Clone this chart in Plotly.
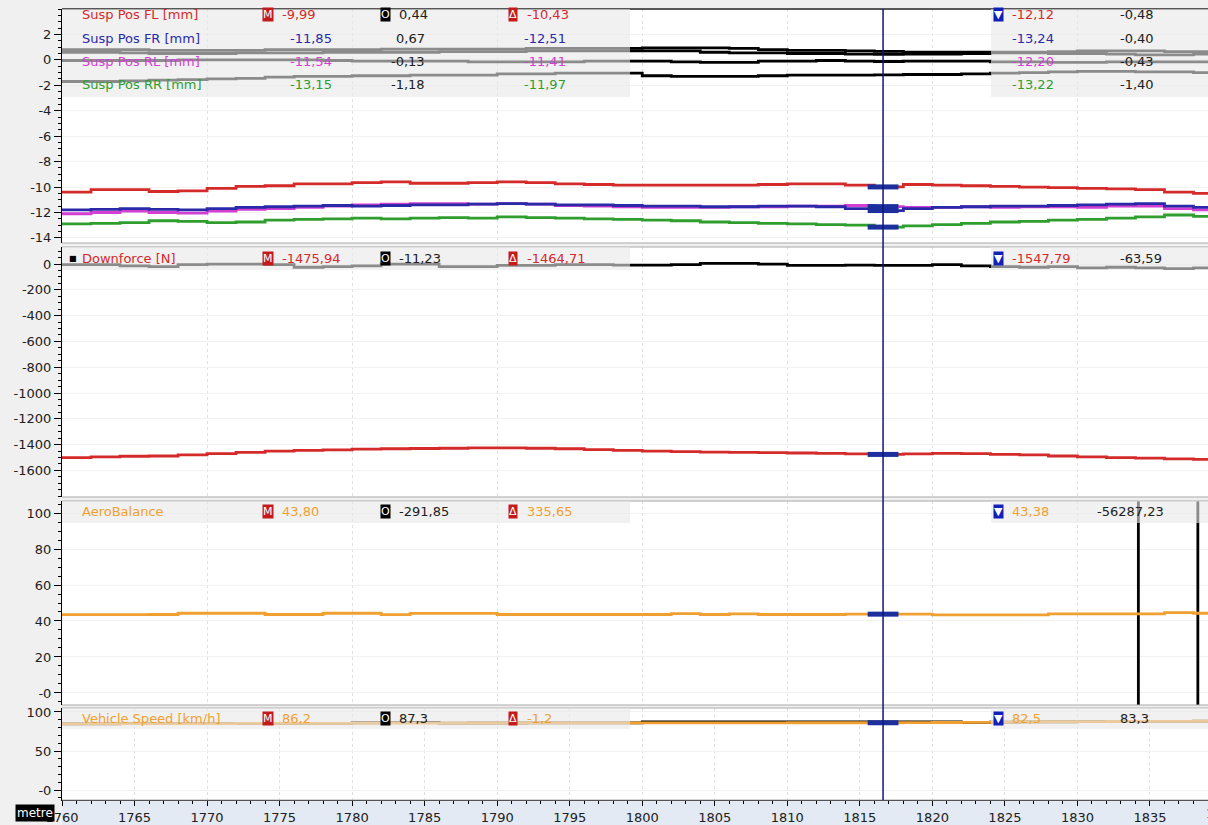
import plotly.graph_objects as go

# ---------------- data ----------------
DIST = [1760, 1762, 1764, 1766, 1768, 1770, 1772, 1774, 1776, 1778, 1780, 1782, 1784, 1786,
        1788, 1790, 1792, 1794, 1796, 1798, 1800, 1802, 1804, 1806, 1808, 1810, 1812, 1814,
        1816, 1818, 1820, 1822, 1824, 1826, 1828, 1830, 1832, 1834, 1836, 1838, 1840]

SUSP_FL = [-10.4, -10.2, -10.2, -10.35, -10.3, -10.1, -9.95, -9.9, -9.75, -9.75, -9.65, -9.6, -9.7, -9.7,
           -9.65, -9.6, -9.65, -9.75, -9.8, -9.85, -9.85, -9.85, -9.85, -9.85, -9.8, -9.75, -9.75, -9.85,
           -9.99, -9.8, -9.85, -9.9, -9.95, -10.0, -10.05, -10.1, -10.15, -10.2, -10.4, -10.5, -10.5]
SUSP_FR = [-11.8, -11.75, -11.7, -11.75, -11.8, -11.7, -11.6, -11.55, -11.5, -11.45, -11.5, -11.45, -11.4, -11.4,
           -11.35, -11.3, -11.35, -11.4, -11.4, -11.45, -11.5, -11.5, -11.55, -11.55, -11.5, -11.5, -11.55, -11.7,
           -11.85, -11.7, -11.6, -11.55, -11.5, -11.5, -11.45, -11.4, -11.35, -11.3, -11.5, -11.6, -11.6]
SUSP_RL = [-12.1, -12.0, -11.9, -12.0, -12.05, -11.9, -11.75, -11.7, -11.6, -11.5, -11.4, -11.35, -11.3, -11.3,
           -11.35, -11.3, -11.35, -11.45, -11.5, -11.55, -11.6, -11.6, -11.6, -11.55, -11.55, -11.5, -11.5, -11.45,
           -11.54, -11.6, -11.6, -11.55, -11.6, -11.55, -11.55, -11.6, -11.5, -11.5, -11.7, -11.8, -11.8]
SUSP_RR = [-12.9, -12.85, -12.8, -12.65, -12.7, -12.8, -12.75, -12.6, -12.55, -12.5, -12.45, -12.5, -12.45, -12.4,
           -12.45, -12.35, -12.4, -12.45, -12.5, -12.55, -12.6, -12.65, -12.75, -12.8, -12.85, -12.9, -12.95, -13.0,
           -13.15, -13.05, -12.95, -12.85, -12.75, -12.7, -12.6, -12.55, -12.45, -12.35, -12.2, -12.3, -12.4]

SUSP_FL_OVL = [0.6, 0.6, 0.55, 0.5, 0.5, 0.5, 0.55, 0.55, 0.55, 0.6, 0.6, 0.6, 0.6, 0.65,
               0.65, 0.65, 0.7, 0.7, 0.7, 0.7, 0.7, 0.7, 0.6, 0.55, 0.55, 0.5, 0.5, 0.45,
               0.44, 0.45, 0.45, 0.5, 0.55, 0.55, 0.5, 0.5, 0.45, 0.4, 0.4, 0.45, 0.45]
SUSP_FR_OVL = [0.8, 0.8, 0.8, 0.75, 0.75, 0.75, 0.75, 0.8, 0.8, 0.8, 0.8, 0.85, 0.85, 0.85,
               0.85, 0.85, 0.9, 0.9, 0.9, 0.9, 0.95, 0.95, 0.95, 0.9, 0.8, 0.75, 0.75, 0.7,
               0.67, 0.6, 0.6, 0.6, 0.6, 0.6, 0.65, 0.7, 0.7, 0.7, 0.65, 0.65, 0.65]
SUSP_RL_OVL = [-0.05, -0.05, -0.05, -0.05, 0.0, 0.0, 0.0, 0.0, 0.0, -0.05, -0.1, -0.1, -0.1, -0.1,
               -0.15, -0.15, -0.15, -0.15, -0.1, -0.1, -0.1, -0.15, -0.2, -0.2, -0.1, -0.1, -0.05, -0.1,
               -0.13, -0.1, -0.1, -0.1, -0.15, -0.15, -0.2, -0.2, -0.15, -0.15, -0.15, -0.15, -0.15]
SUSP_RR_OVL = [-1.7, -1.7, -1.65, -1.6, -1.55, -1.5, -1.45, -1.35, -1.3, -1.3, -1.25, -1.25, -1.2, -1.2,
               -1.2, -1.1, -1.1, -1.05, -1.05, -1.05, -1.25, -1.3, -1.3, -1.3, -1.25, -1.2, -1.2, -1.2,
               -1.18, -1.15, -1.15, -1.1, -1.05, -1.0, -0.95, -0.9, -0.9, -0.95, -0.95, -1.0, -1.0]

DOWNFORCE = [-1500, -1495, -1490, -1488, -1480, -1470, -1460, -1450, -1445, -1440, -1435, -1432, -1430, -1428,
             -1425, -1425, -1428, -1432, -1438, -1445, -1450, -1455, -1458, -1460, -1462, -1465, -1468, -1472,
             -1476, -1472, -1468, -1470, -1475, -1480, -1488, -1495, -1500, -1505, -1510, -1515, -1520]
DOWNFORCE_OVL = [-5, -5, -15, -20, -5, 0, 0, -5, -25, -20, -15, 0, 0, -20,
                 -20, -10, -10, -5, -5, -8, -8, -5, 5, 5, 0, -10, -10, -8,
                 -11, -11, -5, -15, -20, -25, -20, -30, -25, -30, -35, -30, -30]

AERO = [43.5, 43.5, 43.5, 43.6, 44.3, 44.3, 44.3, 43.6, 43.6, 44.3, 44.3, 43.5, 44.2, 44.2,
        44.2, 43.6, 43.6, 43.6, 43.6, 43.6, 43.6, 44.1, 43.6, 44.0, 43.6, 43.6, 43.6, 43.8,
        43.8, 43.8, 43.4, 43.4, 43.4, 43.4, 44.0, 44.0, 44.0, 44.0, 44.6, 44.3, 44.3]
AERO_OVL_DIST = [1760, 1834.2, 1834.2, 1838.3, 1838.3, 1840]
AERO_OVL = [-291.85, -291.85, 56287.23, 56287.23, -291.85, -291.85]

SPEED = [84.8, 84.9, 85.0, 85.0, 85.1, 85.2, 85.3, 85.4, 85.5, 85.5, 85.6, 85.7, 85.8, 85.8,
         85.9, 85.9, 86.0, 86.0, 86.0, 86.0, 86.0, 86.1, 86.1, 86.1, 86.1, 86.2, 86.2, 86.2,
         86.2, 86.3, 86.5, 86.8, 87.0, 87.3, 87.5, 87.6, 87.8, 88.0, 88.0, 88.1, 88.1]
SPEED_OVL = [84.8, 84.9, 85.0, 85.0, 85.1, 85.2, 85.3, 85.4, 85.5, 85.5, 86.2, 86.4, 86.6, 85.8,
             85.9, 85.9, 86.0, 86.0, 86.0, 86.0, 87.4, 87.4, 87.4, 87.3, 87.3, 87.3, 87.3, 87.3,
             87.3, 87.3, 87.3, 86.8, 87.0, 87.3, 87.5, 87.6, 87.8, 88.0, 88.0, 88.1, 88.1]

CURSOR = 1816.6
CURSOR_VALUES = {"y": [-9.99, -11.85, -11.54, -13.15], "y2": [-1475.94], "y3": [43.80], "y4": [86.2]}

X_TICKS = [1760, 1765, 1770, 1775, 1780, 1785, 1790, 1795, 1800, 1805, 1810, 1815, 1820, 1825, 1830, 1835]
X_CLIPPED_TICK = 1840
X_MAX = 1839.0
P1_TICKS = [2, 0, -2, -4, -6, -8, -10, -12, -14]
P2_TICKS = [0, -200, -400, -600, -800, -1000, -1200, -1400, -1600]
P3_TICKS = [100, 80, 60, 40, 20, 0]
P3_TEXT = ["100", "80", "60", "40", "20", "-0"]
P4_TICKS = [100, 50, 0]
P4_TEXT = ["100", "50", "-0"]

SUSP_NAMES = ["Susp Pos FL [mm]", "Susp Pos FR [mm]", "Susp Pos RL [mm]", "Susp Pos RR [mm]"]
SUSP_COLORS = ["#d42a2a", "#2a2aa8", "#d23fd2", "#2f9e2f"]
SUSP_M = ["-9,99", "-11,85", "-11,54", "-13,15"]
SUSP_O = ["0,44", "0,67", "-0,13", "-1,18"]
SUSP_D = ["-10,43", "-12,51", "-11,41", "-11,97"]
SUSP_MIN = ["-12,12", "-13,24", "-12,20", "-13,22"]
SUSP_MIN_O = ["-0,48", "-0,40", "-0,43", "-1,40"]

OTHER_NAMES = ["Downforce [N]", "AeroBalance", "Vehicle Speed [km/h]"]
OTHER_COLORS = ["#d42a2a", "#f0a030", "#f0a030"]
OTHER_M = ["-1475,94", "43,80", "86,2"]
OTHER_O = ["-11,23", "-291,85", "87,3"]
OTHER_D = ["-1464,71", "335,65", "-1,2"]
OTHER_MIN = ["-1547,79", "43,38", "82,5"]
OTHER_MIN_O = ["-63,59", "-56287,23", "83,3"]

# ---------------- layout geometry ----------------
W, H = 1208, 825
ML, MR, MT, MB = 62, 0, 9, 25
PW, PH = W - ML - MR, H - MT - MB
FONT = "DejaVu Sans"


def fx(px):
    return (px - ML) / PW


def fy(py):
    return (H - MB - py) / PH


PANELS = [(9, 243), (247, 497), (501, 705), (708, 800)]
DOMAINS = [[fy(b), fy(t)] for t, b in PANELS]

fig = go.Figure()

LW = 2.8
for vals in [SUSP_FL_OVL, SUSP_FR_OVL, SUSP_RL_OVL, SUSP_RR_OVL]:
    fig.add_trace(go.Scatter(x=DIST, y=vals, mode="lines", line=dict(color="black", width=LW, shape="hv"),
                             xaxis="x2", yaxis="y", hoverinfo="skip", showlegend=False))
for vals, col in zip([SUSP_FL, SUSP_RL, SUSP_FR, SUSP_RR],
                     [SUSP_COLORS[0], SUSP_COLORS[2], SUSP_COLORS[1], SUSP_COLORS[3]]):
    fig.add_trace(go.Scatter(x=DIST, y=vals, mode="lines", line=dict(color=col, width=LW, shape="hv"),
                             xaxis="x2", yaxis="y", hoverinfo="skip", showlegend=False))

fig.add_trace(go.Scatter(x=DIST, y=DOWNFORCE_OVL, mode="lines", line=dict(color="black", width=LW, shape="hv"),
                         xaxis="x3", yaxis="y2", showlegend=False))
fig.add_trace(go.Scatter(x=DIST, y=DOWNFORCE, mode="lines", line=dict(color="#d42a2a", width=LW, shape="hv"),
                         xaxis="x3", yaxis="y2", showlegend=False))

fig.add_trace(go.Scatter(x=AERO_OVL_DIST, y=AERO_OVL, mode="lines", line=dict(color="black", width=LW),
                         xaxis="x4", yaxis="y3", showlegend=False))
fig.add_trace(go.Scatter(x=DIST, y=AERO, mode="lines", line=dict(color="#f0a030", width=LW, shape="hv"),
                         xaxis="x4", yaxis="y3", showlegend=False))

fig.add_trace(go.Scatter(x=DIST, y=SPEED_OVL, mode="lines", line=dict(color="black", width=LW, shape="hv"),
                         xaxis="x", yaxis="y4", showlegend=False))
fig.add_trace(go.Scatter(x=DIST, y=SPEED, mode="lines", line=dict(color="#f0a030", width=LW, shape="hv"),
                         xaxis="x", yaxis="y4", showlegend=False))

for (ya, xa) in [("y", "x2"), ("y2", "x3"), ("y3", "x4"), ("y4", "x")]:
    vals = CURSOR_VALUES[ya]
    fig.add_trace(go.Scatter(x=[CURSOR] * len(vals), y=vals, mode="markers", xaxis=xa, yaxis=ya,
                             marker=dict(symbol="line-ew", size=22, line=dict(color="#1c2f9c", width=5)),
                             showlegend=False, hoverinfo="skip"))

shapes = []
shapes.append(dict(type="rect", xref="paper", yref="paper", x0=0, x1=1, y0=fy(H), y1=0,
                   fillcolor="#e4eaf3", line=dict(width=0), layer="below"))
for (t, b) in PANELS:
    for py in (t, b):
        shapes.append(dict(type="line", xref="paper", yref="paper", x0=0, x1=1, y0=fy(py), y1=fy(py),
                           line=dict(color="#a8a8a8", width=1), layer="above"))
shapes.append(dict(type="line", xref="paper", yref="paper", x0=0, x1=1, y0=1, y1=1,
                   line=dict(color="#303030", width=1.5), layer="above"))
BOX_ROWS = [(9, 97), (247, 270), (501, 523), (708, 729)]
for (t, b) in BOX_ROWS:
    shapes.append(dict(type="rect", xref="paper", yref="paper", x0=0, x1=fx(630), y0=fy(b), y1=fy(t),
                       fillcolor="rgba(232,232,232,0.6)", line=dict(width=0), layer="above"))
    shapes.append(dict(type="rect", xref="paper", yref="paper", x0=fx(991), x1=1, y0=fy(b), y1=fy(t),
                       fillcolor="rgba(232,232,232,0.6)", line=dict(width=0), layer="above"))
shapes.append(dict(type="line", xref="x", yref="paper", x0=CURSOR, x1=CURSOR, y0=0, y1=1,
                   line=dict(color="#14147a", width=1.5), layer="above"))

ann = []


def txt(px, py, s, color, anchor="left", size=13):
    ann.append(dict(x=fx(px), y=fy(py), xref="paper", yref="paper", text=s, showarrow=False,
                    xanchor=anchor, yanchor="middle", font=dict(family=FONT, size=size, color=color)))


def icon(px, py, s, bg):
    ann.append(dict(x=fx(px), y=fy(py), xref="paper", yref="paper", text=s, showarrow=False,
                    xanchor="left", yanchor="middle", bgcolor=bg, borderpad=0,
                    font=dict(family=FONT, size=11, color="white")))


SUSP_ROW_Y = [15, 38, 61, 84]
for i in range(4):
    y = SUSP_ROW_Y[i]
    c = SUSP_COLORS[i]
    txt(80, y, SUSP_NAMES[i], c)
    if i == 0:
        icon(262, y, "M", "#c41a1a")
        txt(280, y, SUSP_M[i], c)
        icon(380, y, "O", "#000000")
        txt(397, y, SUSP_O[i], "#202020")
        icon(508, y, "Δ", "#c41a1a")
        txt(525, y, SUSP_D[i], c)
        icon(993, y, "▼", "#1020b8")
    else:
        txt(334, y, SUSP_M[i], c, "right")
        txt(427, y, SUSP_O[i], "#202020", "right")
        txt(568, y, SUSP_D[i], c, "right")
    txt(1010, y, SUSP_MIN[i], c)
    txt(1118, y, SUSP_MIN_O[i], "#202020")

OTHER_ROW_Y = [258, 512, 718]
for i in range(3):
    y = OTHER_ROW_Y[i]
    c = OTHER_COLORS[i]
    txt(80, y, OTHER_NAMES[i], c)
    icon(262, y, "M", "#c41a1a")
    txt(280, y, OTHER_M[i], c)
    icon(380, y, "O", "#000000")
    txt(397, y, OTHER_O[i], "#202020")
    icon(508, y, "Δ", "#c41a1a")
    txt(525, y, OTHER_D[i], c)
    icon(993, y, "▼", "#1020b8")
    txt(1010, y, OTHER_MIN[i], c)
    txt(1166 if i == 1 else 1118, y, OTHER_MIN_O[i], "#202020", "right" if i == 1 else "left")
txt(73, 258, "■", "#000000", "center", 8)

# partially visible tick label at the right edge (position follows the axis scale)
ann.append(dict(x=(X_CLIPPED_TICK - X_TICKS[0]) / (X_MAX - X_TICKS[0]), y=fy(813), xref="paper", yref="paper",
                text=str(X_CLIPPED_TICK), showarrow=False, xanchor="center", yanchor="middle",
                font=dict(family=FONT, size=13, color="#202020")))
ann.append(dict(x=fx(35), y=fy(813), xref="paper", yref="paper", text="metre", showarrow=False,
                xanchor="center", yanchor="middle", bgcolor="black", borderpad=1,
                font=dict(family=FONT, size=12, color="white")))

grid_x = dict(showgrid=True, gridcolor="#e0e0e0", griddash="dot", gridwidth=1)
axis_font = dict(family=FONT, size=13, color="#202020")

layout = dict(
    width=W, height=H, margin=dict(l=ML, r=MR, t=MT, b=MB),
    paper_bgcolor="#f0f0f0", plot_bgcolor="white", showlegend=False,
    xaxis=dict(domain=[0, 1], anchor="y4", range=[X_TICKS[0], X_MAX], tickmode="array", tickvals=X_TICKS,
               ticktext=[str(v) for v in X_TICKS], ticks="outside", ticklen=5, tickcolor="black",
               showline=True, linecolor="black", tickfont=axis_font, zeroline=False,
               minor=dict(ticks="outside", ticklen=3, dtick=1, tickcolor="black", showgrid=False), **grid_x),
    shapes=shapes, annotations=ann,
)
for i, name in enumerate(["xaxis2", "xaxis3", "xaxis4"]):
    layout[name] = dict(domain=[0, 1], anchor=["y", "y2", "y3"][i], matches="x", showticklabels=False,
                        ticks="", zeroline=False, showline=False, **grid_x)

Y_SPECS = [
    ("yaxis", DOMAINS[0], [-14.4, 4.0], P1_TICKS, [str(v) for v in P1_TICKS], 0.5, "x2"),
    ("yaxis2", DOMAINS[1], [-1806, 132], P2_TICKS, [str(v) for v in P2_TICKS], 50, "x3"),
    ("yaxis3", DOMAINS[2], [-6.7, 106.7], P3_TICKS, P3_TEXT, 5, "x4"),
    ("yaxis4", DOMAINS[3], [-12.8, 105.1], P4_TICKS, P4_TEXT, 10, "x"),
]
for name, dom, rng, tv, tt, mdt, anc in Y_SPECS:
    layout[name] = dict(domain=dom, range=rng, anchor=anc, tickmode="array", tickvals=tv, ticktext=tt,
                        ticks="outside", ticklen=7, tickcolor="black", showline=True, linecolor="black",
                        tickfont=axis_font, zeroline=False, showgrid=True, gridcolor="#f2f2f2",
                        minor=dict(ticks="outside", ticklen=3, dtick=mdt, tick0=0, tickcolor="black", showgrid=False))

fig.update_layout(**layout)
fig.write_html("out.html", config={"displayModeBar": False},
               post_script="document.body.style.margin='0';document.body.style.overflow='hidden';")
